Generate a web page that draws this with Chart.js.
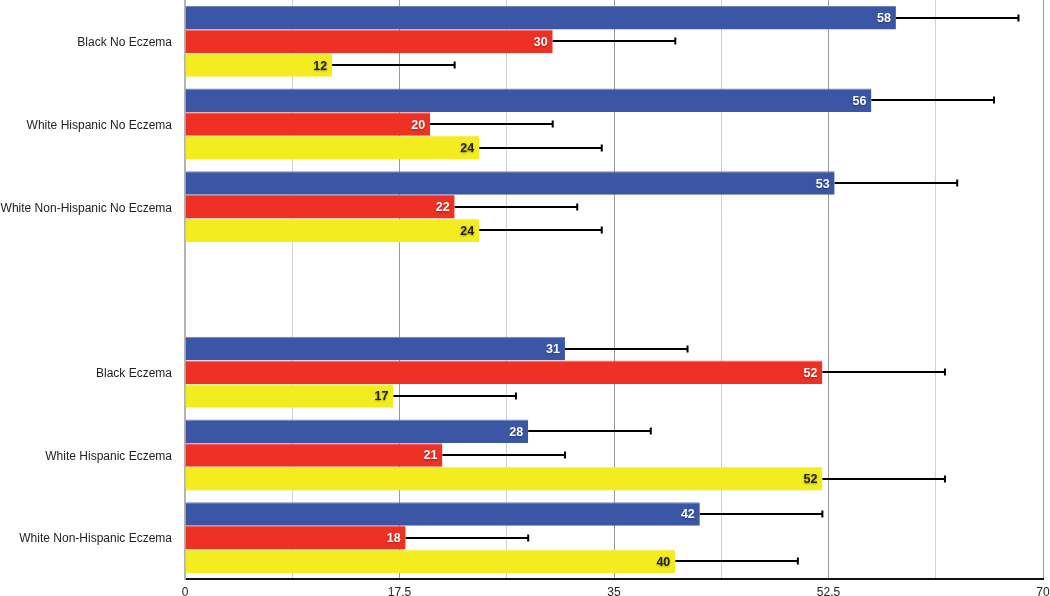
<!DOCTYPE html>
<html>
<head>
<meta charset="utf-8">
<script src="https://cdn.jsdelivr.net/npm/chart.js@4.4.1/dist/chart.umd.min.js"></script>
<style>
  html, body { margin: 0; padding: 0; background: #fff; }
  #wrap { width: 1050px; height: 596px; position: relative; }
</style>
</head>
<body>
<div id="wrap"><canvas id="chart"></canvas></div>
<script>
// data
var categories = ['Black No Eczema', 'White Hispanic No Eczema', 'White Non-Hispanic No Eczema', '',
                  'Black Eczema', 'White Hispanic Eczema', 'White Non-Hispanic Eczema'];
var blueValues = [58, 56, 53, null, 31, 28, 42];
var redValues = [30, 20, 22, null, 52, 21, 18];
var yellowValues = [12, 24, 24, null, 17, 52, 40];
var blueErrors = [10, 10, 10, null, 10, 10, 10];
var redErrors = [10, 10, 10, null, 10, 10, 10];
var yellowErrors = [10, 10, 10, null, 10, 10, 10];
var xTicks = [0, 17.5, 35, 52.5, 70];

var FONT = '"Liberation Sans", Arial, Helvetica, sans-serif';

// error bars, drawn to the right of each bar end
var errorBarPlugin = {
    id: 'errorBars',
    afterDatasetsDraw: function (chart) {
        var ctx = chart.ctx;
        var xScale = chart.scales.x;
        ctx.save();
        ctx.strokeStyle = '#000';
        ctx.lineWidth = 2;
        chart.data.datasets.forEach(function (ds, di) {
            var meta = chart.getDatasetMeta(di);
            meta.data.forEach(function (bar, i) {
                var v = ds.data[i];
                var e = ds.errors[i];
                if (v == null || e == null) return;
                var x0 = xScale.getPixelForValue(v);
                var x1 = xScale.getPixelForValue(v + e);
                var y = Math.round(bar.y);
                ctx.beginPath();
                ctx.moveTo(x0, y);
                ctx.lineTo(x1, y);
                ctx.moveTo(x1, y - 3.5);
                ctx.lineTo(x1, y + 3.5);
                ctx.stroke();
            });
        });
        ctx.restore();
    }
};

// value labels inside the bar end
var valueLabelPlugin = {
    id: 'valueLabels',
    afterDatasetsDraw: function (chart) {
        var ctx = chart.ctx;
        ctx.save();
        ctx.font = 'bold 12.5px ' + FONT;
        ctx.textAlign = 'right';
        ctx.textBaseline = 'middle';
        chart.data.datasets.forEach(function (ds, di) {
            var meta = chart.getDatasetMeta(di);
            meta.data.forEach(function (bar, i) {
                var v = ds.data[i];
                if (v == null) return;
                ctx.shadowColor = 'rgba(0,0,0,0.35)';
                ctx.shadowBlur = 2;
                ctx.shadowOffsetY = 1;
                ctx.fillStyle = ds.labelColor;
                ctx.fillText(String(v), bar.x - 5, bar.y + 1);
            });
        });
        ctx.restore();
    }
};

var chart = new Chart(document.getElementById('chart'), {
    type: 'bar',
    data: {
        labels: categories,
        datasets: [
            {
                label: 'Series 1',
                data: blueValues,
                errors: blueErrors,
                backgroundColor: '#3c56a6',
                borderColor: '#6f82c0',
                borderWidth: { top: 1, right: 0, bottom: 0, left: 0 },
                labelColor: '#fff'
            },
            {
                label: 'Series 2',
                data: redValues,
                errors: redErrors,
                backgroundColor: '#ee3124',
                borderColor: '#f36a60',
                borderWidth: { top: 1, right: 0, bottom: 0, left: 0 },
                labelColor: '#fff'
            },
            {
                label: 'Series 3',
                data: yellowValues,
                errors: yellowErrors,
                backgroundColor: '#f3ec1f',
                borderColor: '#f6f066',
                borderWidth: { top: 1, right: 0, bottom: 0, left: 0 },
                labelColor: '#222'
            }
        ]
    },
    options: {
        indexAxis: 'y',
        responsive: true,
        maintainAspectRatio: false,
        animation: false,
        layout: { padding: { top: 0, right: 7, bottom: 0, left: 0 } },
        datasets: {
            bar: { categoryPercentage: 0.86, barPercentage: 0.99 }
        },
        plugins: {
            legend: { display: false },
            tooltip: { enabled: false }
        },
        scales: {
            x: {
                min: 0,
                max: 70,
                ticks: {
                    stepSize: 8.75,
                    autoSkip: false,
                    maxRotation: 0,
                    color: '#222',
                    padding: 6,
                    font: { family: FONT, size: 12 },
                    callback: function (value) {
                        return xTicks.indexOf(value) >= 0 ? String(value) : '';
                    }
                },
                grid: {
                    drawTicks: false,
                    lineWidth: 1,
                    color: function (c) {
                        if (!c.tick) return '#ccc';
                        if (c.tick.value === 0) return 'rgba(0,0,0,0)';
                        return xTicks.indexOf(c.tick.value) >= 0 ? '#9a9a9a' : '#d2d2d2';
                    }
                },
                border: { display: true, color: '#111', width: 2 },
                afterFit: function (scale) {
                    scale.height = 17;
                    scale.paddingLeft = 0;
                    scale.paddingRight = 0;
                }
            },
            y: {
                grid: { display: false, drawTicks: false },
                border: { display: true, color: '#b4b4b4', width: 2 },
                ticks: {
                    color: '#222',
                    padding: 13,
                    labelOffset: 1.5,
                    autoSkip: false,
                    font: { family: FONT, size: 12 }
                },
                afterFit: function (scale) {
                    scale.width = 185;
                    scale.paddingTop = 0;
                    scale.paddingBottom = 0;
                }
            }
        }
    },
    plugins: [errorBarPlugin, valueLabelPlugin]
});
</script>
</body>
</html>
